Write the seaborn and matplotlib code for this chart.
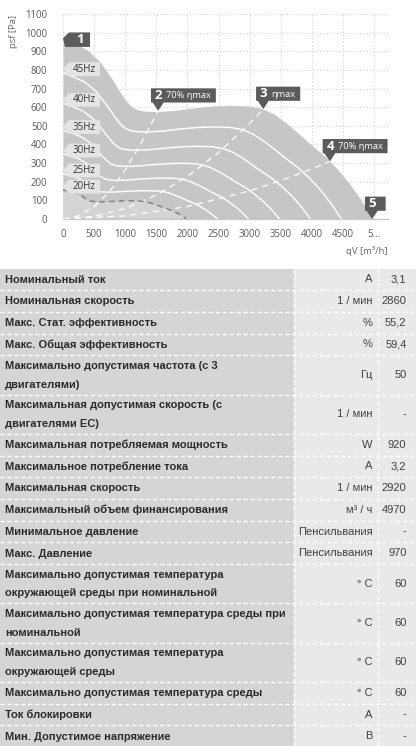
import matplotlib
matplotlib.use("Agg")
import matplotlib.pyplot as plt
import matplotlib.transforms as mtransforms
from matplotlib.patches import Polygon, Rectangle
import pandas as pd
import seaborn as sns

# ------------------------------------------------------------------ data
# 50 Hz envelope (outer curve)
q50 = [0, 200, 400, 600, 800, 900, 1000, 1100, 1200, 1300, 1500, 1800, 2100, 2400,
       2700, 3000, 3200, 3400, 3600, 3800, 4000, 4200, 4400, 4600, 4800, 4970]
p50 = [970, 940, 905, 842, 745, 690, 640, 603, 586, 579, 576, 583, 596, 606,
       610, 606, 592, 562, 512, 455, 395, 340, 272, 192, 98, 0]

q45 = [0, 180, 360, 540, 720, 810, 900, 990, 1080, 1170, 1350, 1620, 1890, 2160,
       2430, 2700, 2880, 3060, 3240, 3420, 3600, 3780, 3960, 4140, 4320, 4473]
p45 = [786, 761, 733, 682, 603, 559, 518, 488, 475, 469, 467, 472, 483, 491,
       494, 491, 480, 455, 415, 369, 320, 275, 220, 156, 79, 0]

q40 = [0, 160, 320, 480, 640, 720, 800, 880, 960, 1040, 1200, 1440, 1680, 1920,
       2160, 2400, 2560, 2720, 2880, 3040, 3200, 3360, 3520, 3680, 3840, 3976]
p40 = [621, 602, 579, 539, 477, 442, 410, 386, 375, 371, 369, 373, 381, 388,
       390, 388, 379, 360, 328, 291, 253, 218, 174, 123, 63, 0]

q35 = [0, 140, 280, 420, 560, 630, 700, 770, 840, 910, 1050, 1260, 1470, 1680,
       1890, 2100, 2240, 2380, 2520, 2660, 2800, 2940, 3080, 3220, 3360, 3479]
p35 = [475, 461, 443, 413, 365, 338, 314, 295, 287, 284, 282, 286, 292, 297,
       299, 297, 290, 275, 251, 223, 194, 167, 133, 94, 48, 0]

q30 = [0, 120, 240, 360, 480, 540, 600, 660, 720, 780, 900, 1080, 1260, 1440,
       1620, 1800, 1920, 2040, 2160, 2280, 2400, 2520, 2640, 2760, 2880, 2982]
p30 = [349, 338, 326, 303, 268, 248, 230, 217, 211, 208, 207, 210, 215, 218,
       220, 218, 213, 202, 184, 164, 142, 122, 98, 69, 35, 0]

q25 = [0, 100, 200, 300, 400, 450, 500, 550, 600, 650, 750, 900, 1050, 1200,
       1350, 1500, 1600, 1700, 1800, 1900, 2000, 2100, 2200, 2300, 2400, 2485]
p25 = [242, 235, 226, 210, 186, 172, 160, 151, 146, 145, 144, 146, 149, 151,
       152, 151, 148, 140, 128, 114, 99, 85, 68, 48, 24, 0]

q20 = [0, 80, 160, 240, 320, 360, 400, 440, 480, 520, 600, 720, 840, 960,
       1080, 1200, 1280, 1360, 1440, 1520, 1600, 1680, 1760, 1840, 1920, 1988]
p20 = [155, 150, 145, 135, 119, 110, 102, 96, 94, 93, 92, 93, 95, 97,
       98, 97, 95, 90, 82, 73, 63, 54, 44, 31, 16, 0]

hz_labels = ["45Hz", "40Hz", "35Hz", "30Hz", "25Hz", "20Hz"]

# system (efficiency) curves
sys2_q = [0, 250, 500, 750, 1000, 1250, 1530]
sys2_p = [0, 17, 66, 148, 262, 405, 581]
sys3_q = [0, 500, 1000, 1500, 2000, 2500, 3000, 3220]
sys3_p = [0, 14, 57, 128, 228, 356, 512, 590]
sys4_q = [0, 1000, 2000, 3000, 3500, 4000, 4290]
sys4_p = [0, 17, 67, 151, 206, 269, 309]

# numbered operating points
point_q = [0, 1530, 3220, 4290, 4970]
point_p = [970, 581, 590, 309, 0]
point_num = ["1", "2", "3", "4", "5"]
point_note = ["", "70% ηmax", "ηmax", "70% ηmax", ""]

x_ticks = [0, 500, 1000, 1500, 2000, 2500, 3000, 3500, 4000, 4500, 5000]
x_tick_labels = ["0", "500", "1000", "1500", "2000", "2500", "3000", "3500",
                 "4000", "4500", "5..."]
y_ticks = [0, 100, 200, 300, 400, 500, 600, 700, 800, 900, 1000, 1100]

table_labels = [
    "Номинальный ток",
    "Номинальная скорость",
    "Макс. Стат. эффективность",
    "Макс. Общая эффективность",
    "Максимально допустимая частота (с 3\nдвигателями)",
    "Максимальная допустимая скорость (с\nдвигателями EC)",
    "Максимальная потребляемая мощность",
    "Максимальное потребление тока",
    "Максимальная скорость",
    "Максимальный объем финансирования",
    "Минимальное давление",
    "Макс. Давление",
    "Максимально допустимая температура\nокружающей среды при номинальной",
    "Максимально допустимая температура среды при\nноминальной",
    "Максимально допустимая температура\nокружающей среды",
    "Максимально допустимая температура среды",
    "Ток блокировки",
    "Мин. Допустимое напряжение",
]
table_units = ["A", "1 / мин", "%", "%", "Гц", "1 / мин", "W", "A", "1 / мин",
               "м³ / ч", "Пенсильвания", "Пенсильвания", "° C", "° C", "° C",
               "° C", "A", "B"]
table_values = ["3,1", "2860", "55,2", "59,4", "50", "-", "920", "3,2", "2920",
                "4970", "-", "970", "60", "60", "60", "60", "-", "-"]

# ------------------------------------------------------------------ style
sns.set_style("white")
plt.rcParams["font.family"] = ["Open Sans", "DejaVu Sans"]

W, H = 416, 746
DPI = 100
FILL = "#c6c6c6"
FILL_LOW = "#d4d4d4"
AXC = "#c3ccd5"
TXT = "#5a5a5a"
DARK = "#5b5b5b"
TAG = "#e4e4e4"

fig = plt.figure(figsize=(W / DPI, H / DPI), dpi=DPI)

# ------------------------------------------------------------------ table (pixel coordinates)
axt = fig.add_axes([0, 0, 1, 1], zorder=0)
axt.set_xlim(0, W)
axt.set_ylim(H, 0)
axt.axis("off")

TOP = 268.5
SINGLE = 21.7
DOUBLE = 39.3
COL1 = 294
COL2 = 378
tfont = ["Liberation Sans", "DejaVu Sans"]

df = pd.DataFrame({"label": table_labels, "unit": table_units, "value": table_values})
y = TOP
for _, row in df.iterrows():
    lines = row["label"].split("\n")
    h = SINGLE if len(lines) == 1 else DOUBLE
    axt.add_patch(Rectangle((0, y), COL1, h, fc="#d5d5d5", lw=0, zorder=1))
    axt.add_patch(Rectangle((COL1, y), W - COL1, h, fc="#e9e9e9", lw=0, zorder=1))
    n = len(lines)
    for i, ln in enumerate(lines):
        axt.text(5, y + h / 2 + (i - (n - 1) / 2) * 18.6 + 0.3, ln, ha="left", va="center",
                 fontsize=8, fontweight="bold", color="#2b2b2b", family=tfont, zorder=3)
    axt.text(372.5, y + h / 2, row["unit"], ha="right", va="center", fontsize=8,
             color="#404040", family=tfont, zorder=3)
    axt.text(406.5, y + h / 2, row["value"], ha="right", va="center", fontsize=8,
             color="#404040", family=tfont, zorder=3)
    y += h
    axt.plot([0, W], [y, y], color="white", lw=1, ls=(0, (3, 2)), zorder=2)
for xc in (COL1, COL2):
    axt.plot([xc, xc], [TOP, H], color="white", lw=1, ls=(0, (3, 2)), zorder=2)

# ------------------------------------------------------------------ chart
ax = fig.add_axes([63 / W, 1 - 219 / H, 325 / W, 205 / H], zorder=2)
ax.patch.set_alpha(0)
ax.set_xlim(0, 5225)
ax.set_ylim(0, 1100)
ax.set_axisbelow(True)
ax.grid(True, color="#d2d2d2", lw=0.8, ls=(0, (1, 2)), zorder=0)

ax.fill_between(q50, p50, color=FILL, lw=0, zorder=1)
ax.fill_between(q20, p20, color=FILL_LOW, lw=0, zorder=1.1)

# system curves (white dashed)
for qs, ps in ((sys2_q, sys2_p), (sys3_q, sys3_p), (sys4_q, sys4_p)):
    sns.lineplot(x=qs, y=ps, ax=ax, color="white", lw=0.9, ls=(0, (5, 4)),
                 estimator=None, sort=False, legend=False, zorder=2)

# bottom dashed line along the axis
sns.lineplot(x=[q50[0], q50[-1]], y=[p50[-1], p50[-1]], ax=ax, color="#aab4be", lw=1,
             ls=(0, (4, 3)), estimator=None, sort=False, legend=False, zorder=2.2)

# speed curves
for qs, ps in ((q45, p45), (q40, p40), (q35, p35), (q30, p30), (q25, p25)):
    sns.lineplot(x=qs, y=ps, ax=ax, color="white", lw=1.0, estimator=None, sort=False,
                 legend=False, zorder=3)
sns.lineplot(x=q20, y=p20, ax=ax, color="#7d7d7d", lw=1.0, ls=(0, (4, 3)),
             estimator=None, sort=False, legend=False, zorder=3)

# axes styling
for s in ("top", "right"):
    ax.spines[s].set_visible(False)
ax.spines["left"].set_position(("outward", 3))
ax.spines["left"].set_visible(False)
ax.spines["bottom"].set_color(AXC)
ax.spines["bottom"].set_linewidth(1)
ax.spines["bottom"].set_zorder(1.5)
ax.set_xticks(x_ticks)
ax.set_xticklabels(x_tick_labels)
ax.set_yticks(y_ticks)
ax.set_yticklabels([str(v) for v in y_ticks])
ax.tick_params(axis="y", length=4.8, width=0.8, color=AXC, pad=3.4, labelsize=6.9,
               labelcolor=TXT)
ax.tick_params(axis="x", length=5, width=0.8, color=AXC, pad=2.2, labelsize=6.9,
               labelcolor=TXT)
ax.set_xlabel("")
ax.set_ylabel("")

fig.text(13 / W, 1 - 15 / H, "psf [Pa]", rotation=90, ha="center", va="top",
         fontsize=6.8, color="#666666")
fig.text(388 / W, 1 - 251 / H, "qV [m³/h]", ha="right", va="center",
         fontsize=6.8, color="#666666")


def anchor(q, p):
    return mtransforms.ScaledTranslation(q, p, ax.transData)


# Hz tags at the start of each speed curve
hz_start = [p45[0], p40[0], p35[0], p30[0], p25[0], p20[0]]
for lab, p0 in zip(hz_labels, hz_start):
    tr = anchor(0, p0)
    verts = [(0, 3.5), (6, 10.3), (37, 10.3), (37, -3.5), (6, -3.5)]
    ax.add_patch(Polygon(verts, closed=True, fc=TAG, ec="none", transform=tr,
                         zorder=6, clip_on=False))
    ax.text(21.5, 3.3, lab, transform=tr, ha="center", va="center", fontsize=7,
            color="#333333", zorder=7, clip_on=False)

# numbered operating points
note_texts = []
for q, p, num, note in zip(point_q, point_p, point_num, point_note):
    tr = anchor(q, p)
    if num == "1":
        ax.text(17, -1.3, num, transform=tr, ha="center", va="center", fontsize=9.5,
                fontweight="bold", color="white", zorder=7, clip_on=False)
        note_texts.append(None)
    else:
        ax.text(0.3, 15.2, num, transform=tr, ha="center", va="center", fontsize=9.5,
                fontweight="bold", color="white", zorder=7, clip_on=False)
        t = None
        if note:
            t = ax.text(8.2, 14.8, note, transform=tr, ha="left", va="center",
                        fontsize=6.7, color="white", zorder=7, clip_on=False)
        note_texts.append(t)

fig.canvas.draw()
renderer = fig.canvas.get_renderer()
for q, p, num, t in zip(point_q, point_p, point_num, note_texts):
    tr = anchor(q, p)
    if num == "1":
        verts = [(0, 0), (6, 5.8), (27, 5.8), (27, -8.7), (2, -8.7)]
    else:
        right = 13.5
        if t is not None:
            tx = ax.transData.transform((q, p))[0]
            right = max(right, t.get_window_extent(renderer).x1 - tx + 4.6)
        verts = [(0, 0), (5.5, 8.2), (right, 8.2), (right, 22.4), (-7.2, 22.4),
                 (-7.2, 8.2), (-5.5, 8.2)]
    ax.add_patch(Polygon(verts, closed=True, fc=DARK, ec="none", transform=tr,
                         zorder=6, clip_on=False))

fig.savefig("out.png", dpi=DPI)
